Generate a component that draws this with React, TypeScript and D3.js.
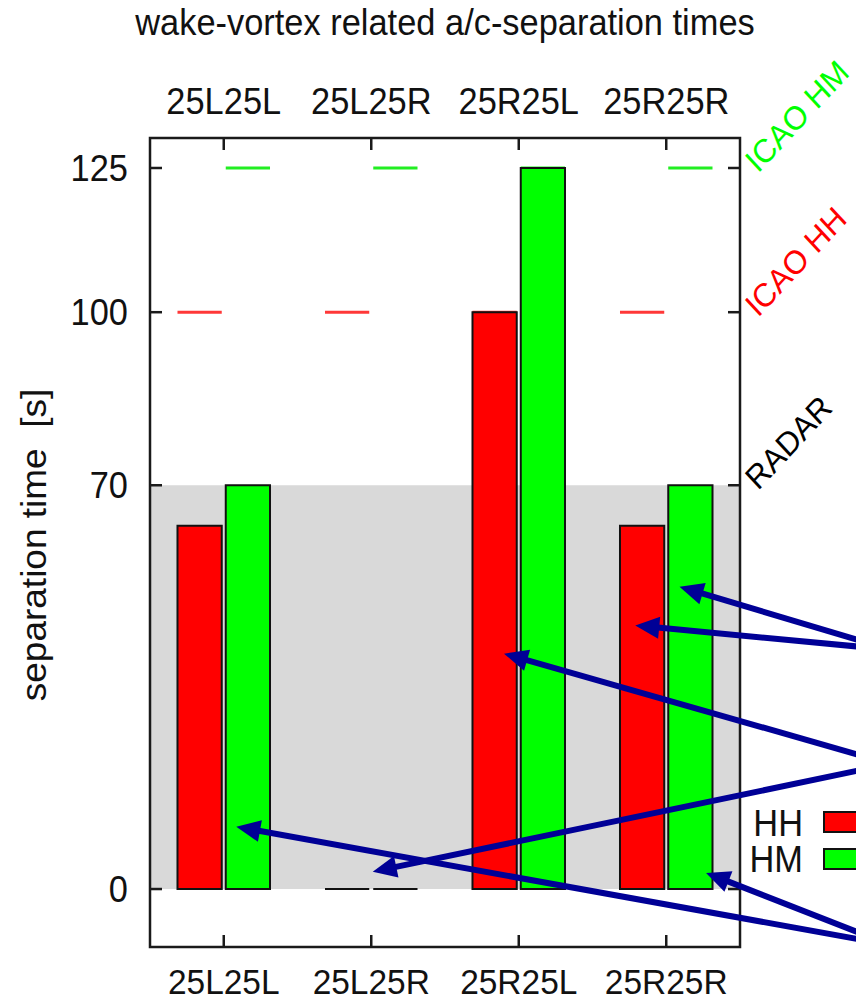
import React from 'react';
import * as d3 from 'd3';

// runway pairs (leader / follower)
const categories = ['25L25L', '25L25R', '25R25L', '25R25R'];
const seriesNames = ['HH', 'HM'];
const hhValues = [63, 0, 100, 63];
const hmValues = [70, 0, 125, 70];
const icaoHH = [100, 100, 100, 100];
const icaoHM = [125, 125, 125, 125];
const radarLimit = 70;
const yTicks = [0, 70, 100, 125];

// annotation arrows: tip in data coords, origin off to the right of the frame
const arrows = [
  { x0: 4.52, y0: 41.5, x1: 3.09, y1: 52.4 },
  { x0: 4.52, y0: 41.5, x1: 2.79, y1: 45.7 },
  { x0: 4.52, y0: 21.7, x1: 1.9, y1: 40.8 },
  { x0: 4.52, y0: 21.7, x1: 1.01, y1: 3.0 },
  { x0: 4.52, y0: -9.7, x1: 0.085, y1: 10.8 },
  { x0: 4.52, y0: -9.7, x1: 3.27, y1: 2.8 },
];

const W = 856;
const H = 1003;
const left = 150, right = 740, top = 138, bottom = 947;
const font = '"Liberation Sans", Arial, Helvetica, sans-serif';
const fs = 37;
const sx = 0.93; // glyphs in the original are a bit narrow
const colors = { HH: '#ff0000', HM: '#00ff00' };
const arrowColor = '#000096';

const Label = ({ x, y, anchor = 'start', size = fs, fill = '#111', rotate = 0, children }) => (
  <text
    transform={`translate(${x},${y}) scale(${sx},1) rotate(${rotate})`}
    textAnchor={anchor}
    fontSize={size}
    fill={fill}
  >
    {children}
  </text>
);

const App = () => {
  const x = d3.scaleLinear().domain([-0.5, 3.5]).range([left, right]);
  const y = d3.scaleLinear().domain([-10.05, 130.2]).range([bottom, top]);

  const bw = 0.3;
  const gap = 0.0136;
  const offs = { HH: -gap - bw, HM: gap };
  const valuesBy = { HH: hhValues, HM: hmValues };

  const barPath = (i, s, v) => {
    const xa = x(i + offs[s]);
    const xb = x(i + offs[s] + bw);
    return `M${xa},${y(0)}H${xb}V${y(v)}H${xa}Z`;
  };

  const arrowHead = (a) => {
    const px = x(a.x1), py = y(a.y1);
    const qx = x(a.x0), qy = y(a.y0);
    const ang = Math.atan2(qy - py, qx - px);
    const len = 24, hw = 11;
    const bx = px + Math.cos(ang) * len, by = py + Math.sin(ang) * len;
    const nx = -Math.sin(ang) * hw, ny = Math.cos(ang) * hw;
    return {
      pts: `${px},${py} ${bx + nx},${by + ny} ${bx - nx},${by - ny}`,
      bx: px + Math.cos(ang) * (len - 4),
      by: py + Math.sin(ang) * (len - 4),
    };
  };

  const sideLabels = [
    { text: 'ICAO HM', v: icaoHM[0], color: '#00ff00' },
    { text: 'ICAO HH', v: icaoHH[0], color: '#ff0000' },
    { text: 'RADAR', v: radarLimit, color: '#000000' },
  ];

  return (
    <svg
      width={W}
      height={H}
      style={{ position: 'absolute', left: 0, top: 0, background: '#fff' }}
      fontFamily={font}
    >
      {/* radar band */}
      <rect x={left} y={y(radarLimit)} width={right - left} height={y(0) - y(radarLimit)} fill="#d9d9d9" />

      {/* ICAO limits */}
      {categories.map((c, i) => (
        <g key={'icao' + c}>
          <line x1={x(i + offs.HH)} x2={x(i + offs.HH + bw)} y1={y(icaoHH[i])} y2={y(icaoHH[i])} stroke="#ff3838" strokeWidth={3} />
          <line x1={x(i + offs.HM)} x2={x(i + offs.HM + bw)} y1={y(icaoHM[i])} y2={y(icaoHM[i])} stroke="#22ee22" strokeWidth={3} />
        </g>
      ))}

      {/* bars */}
      {categories.map((c, i) =>
        seriesNames.map((s) => (
          <path key={c + s} d={barPath(i, s, valuesBy[s][i])} fill={colors[s]} stroke="#111" strokeWidth={2} />
        ))
      )}

      {/* frame and ticks */}
      <rect x={left} y={top} width={right - left} height={bottom - top} fill="none" stroke="#1a1a1a" strokeWidth={2.5} />
      {yTicks.map((t) => (
        <g key={'yt' + t}>
          <line x1={left} x2={left + 12} y1={y(t)} y2={y(t)} stroke="#1a1a1a" strokeWidth={2.5} />
          <line x1={right} x2={right - 12} y1={y(t)} y2={y(t)} stroke="#1a1a1a" strokeWidth={2.5} />
          <Label x={128} y={y(t) + 13} anchor="end">{t}</Label>
        </g>
      ))}
      {categories.map((c, i) => (
        <g key={'xt' + c}>
          <line x1={x(i)} x2={x(i)} y1={bottom} y2={bottom - 12} stroke="#1a1a1a" strokeWidth={2.5} />
          <line x1={x(i)} x2={x(i)} y1={top} y2={top + 12} stroke="#1a1a1a" strokeWidth={2.5} />
          <Label x={x(i)} y={994} anchor="middle" size={36}>{c}</Label>
          <Label x={x(i)} y={114} anchor="middle">{c}</Label>
        </g>
      ))}

      {/* titles */}
      <Label x={445} y={35} anchor="middle">wake-vortex related a/c-separation times</Label>
      <Label x={46} y={545} anchor="middle" rotate={-90}>{'separation time\u00a0\u00a0[s]'}</Label>

      {/* rotated limit labels */}
      {sideLabels.map((l) => (
        <Label key={l.text} x={758} y={y(l.v) + 6} size={33} fill={l.color} rotate={-45}>{l.text}</Label>
      ))}

      {/* legend */}
      {seriesNames.map((s, i) => (
        <g key={'lg' + s}>
          <Label x={803} y={836 + i * 36} anchor="end">{s}</Label>
          <rect x={824} y={812 + i * 37} width={60} height={20} fill={colors[s]} stroke="#111" strokeWidth={2} />
        </g>
      ))}

      {/* annotation arrows */}
      {arrows.map((a, i) => {
        const h = arrowHead(a);
        return (
          <g key={'ar' + i}>
            <line x1={x(a.x0)} y1={y(a.y0)} x2={h.bx} y2={h.by} stroke={arrowColor} strokeWidth={6} />
            <polygon points={h.pts} fill={arrowColor} />
          </g>
        );
      })}
    </svg>
  );
};

export default App;
